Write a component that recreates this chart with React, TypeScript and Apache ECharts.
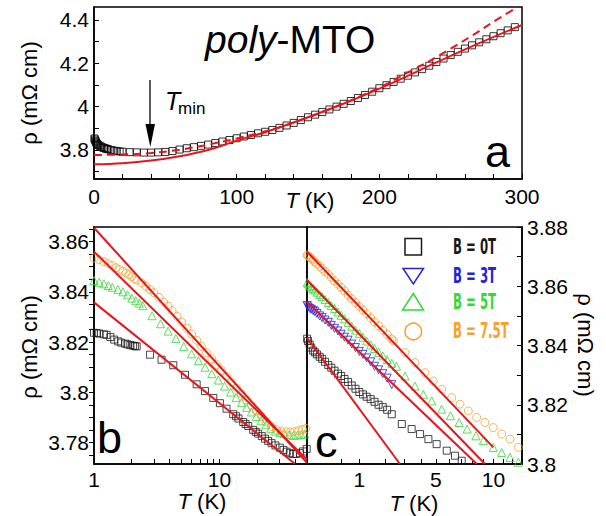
import React, { useEffect, useRef } from "react";
import * as echarts from "echarts";

// ---------------- Panel a : rho(T), 0-300 K ----------------
const aLowT = [0.3, 0.6, 1, 1.4, 1.8, 2.3, 3, 4, 5, 6, 7, 8, 9, 10, 12, 14, 16, 18];
const aLowRho = [3.853, 3.848, 3.842, 3.836, 3.831, 3.827, 3.823, 3.819, 3.815, 3.812, 3.809, 3.807, 3.805, 3.803, 3.8, 3.797, 3.795, 3.793];
const aT = [20, 25, 30, 35, 40, 45, 50, 55, 60, 65, 70, 75, 80, 85, 90, 95, 100, 105, 110, 115, 120, 125, 130, 135, 140, 145, 150, 155, 160, 165, 170, 175, 180, 185, 190, 195, 200, 205, 210, 215, 220, 225, 230, 235, 240, 245, 250, 255, 260, 265, 270, 275, 280, 285, 290, 295];
const aRho = [3.792, 3.79, 3.789, 3.788, 3.788, 3.789, 3.791, 3.795, 3.802, 3.808, 3.813, 3.819, 3.825, 3.832, 3.839, 3.846, 3.854, 3.862, 3.869, 3.877, 3.884, 3.892, 3.902, 3.913, 3.925, 3.938, 3.951, 3.963, 3.975, 3.987, 4.0, 4.013, 4.026, 4.04, 4.054, 4.069, 4.085, 4.099, 4.114, 4.129, 4.143, 4.158, 4.173, 4.189, 4.206, 4.222, 4.238, 4.253, 4.268, 4.283, 4.297, 4.311, 4.325, 4.339, 4.352, 4.367];
const aFitSolidT = [0, 20, 40, 60, 80, 100, 120, 150, 180, 210, 240, 270, 300];
const aFitSolid = [3.734, 3.739, 3.751, 3.771, 3.8, 3.843, 3.882, 3.951, 4.027, 4.112, 4.204, 4.293, 4.377];
const aFitDashT = [0, 20, 40, 60, 80, 100, 130, 160, 200, 220, 235, 250, 265, 280, 296];
const aFitDash = [3.777, 3.779, 3.786, 3.801, 3.825, 3.853, 3.905, 3.975, 4.088, 4.158, 4.21, 4.268, 4.328, 4.392, 4.456];
const aTicksX = [0, 20, 40, 60, 80, 100, 120, 140, 160, 180, 200, 220, 240, 260, 280, 300];
const aLabelsX = [0, 100, 200, 300];
const aTicksY = [3.7, 3.8, 3.9, 4.0, 4.1, 4.2, 4.3, 4.4];
const aLabelsY = [3.8, 4.0, 4.2, 4.4];

// ---------------- Panel b : log T, 1-50 K ----------------
const b0T = [1.0, 1.05, 1.1, 1.2, 1.26, 1.35, 1.45, 1.56, 1.65, 1.77, 1.85, 1.95, 2.05, 2.12, 2.19, 2.8, 3.46, 4.29, 5.32, 6.59, 7.68, 8.94, 10.1, 11.4, 12.9, 13.6, 14.2, 15.5, 16.2, 17.0, 18.6, 19.5, 20.4, 21.8, 23.1, 24.5, 26.1, 28, 30.4, 32.5, 34.4, 36.5, 38.8, 41, 43.9, 46.5, 49.7];
const b0Rho = [3.8237, 3.8236, 3.8234, 3.8231, 3.8229, 3.822, 3.821, 3.8203, 3.8198, 3.8194, 3.8191, 3.8188, 3.8186, 3.8184, 3.8183, 3.815, 3.813, 3.8108, 3.807, 3.8032, 3.8005, 3.7978, 3.7957, 3.7935, 3.7913, 3.7905, 3.7896, 3.7882, 3.7874, 3.7866, 3.7851, 3.7843, 3.7836, 3.7826, 3.7816, 3.7807, 3.7798, 3.7789, 3.778, 3.7771, 3.7764, 3.7758, 3.7755, 3.7755, 3.7758, 3.7765, 3.7775];
const b5T = [1.0, 1.1, 1.2, 1.3, 1.4, 1.55, 1.7, 1.85, 2.0, 2.15, 2.3, 2.45, 2.9, 3.4, 3.9, 4.5, 5.2, 6.0, 6.8, 7.7, 8.7, 9.8, 11, 12.3, 13.6, 15, 16.5, 18, 19.7, 21.5, 23.5, 25.7, 28, 30.5, 33, 36, 39, 42, 45, 48];
const b5Rho = [3.8445, 3.8438, 3.8432, 3.8425, 3.8418, 3.841, 3.84, 3.8388, 3.8375, 3.8365, 3.8355, 3.8345, 3.8305, 3.8273, 3.8244, 3.8214, 3.8183, 3.8153, 3.8126, 3.81, 3.8074, 3.8049, 3.8025, 3.8001, 3.798, 3.796, 3.794, 3.7922, 3.7904, 3.7887, 3.7871, 3.7857, 3.7846, 3.784, 3.7835, 3.7831, 3.7829, 3.783, 3.7832, 3.7835];
const b75T = [1.0, 1.1, 1.2, 1.3, 1.4, 1.5, 1.6, 1.7, 1.8, 1.9, 2.0, 2.1, 2.2, 2.4, 2.6, 2.8, 3.0, 3.3, 3.6, 3.9, 4.2, 4.6, 5.0, 5.5, 6.0, 6.6, 7.2, 7.9, 8.7, 9.5, 10.4, 11.4, 12.5, 13.7, 15, 16.4, 18, 19.7, 21.6, 23.7, 26, 28.5, 31, 34, 37, 40, 43, 46, 49];
const b75Rho = [3.8535, 3.8528, 3.852, 3.8512, 3.8505, 3.8496, 3.8489, 3.8482, 3.8475, 3.8468, 3.846, 3.8453, 3.8447, 3.8435, 3.8422, 3.8409, 3.8397, 3.8378, 3.836, 3.8343, 3.8325, 3.8302, 3.828, 3.8255, 3.8232, 3.8207, 3.8183, 3.8158, 3.8133, 3.8111, 3.8088, 3.8064, 3.804, 3.8017, 3.7994, 3.7971, 3.7948, 3.7926, 3.7904, 3.7882, 3.7864, 3.7852, 3.7846, 3.7843, 3.7842, 3.7844, 3.7848, 3.7852, 3.7856];
const bFitT = [1, 50];
const bFit75 = [3.8655, 3.772];
const bFit5 = [3.856, 3.7733];
const bFit0T = [1, 40];
const bFit0 = [3.8358, 3.7716];
const bTicksX = [1, 2, 3, 4, 5, 6, 7, 8, 9, 10, 20, 30, 40];
const bLabelsX = [1, 10];
const bTicksY = [3.775, 3.78, 3.785, 3.79, 3.795, 3.8, 3.805, 3.81, 3.815, 3.82, 3.825, 3.83, 3.835, 3.84, 3.845, 3.85, 3.855, 3.86, 3.865];
const bLabelsY = [3.78, 3.8, 3.82, 3.84, 3.86];

// ---------------- Panel c : T^(1/2) axis ----------------
const cDenseT = [0.025, 0.03, 0.04, 0.05, 0.065, 0.08, 0.1, 0.13, 0.16, 0.2, 0.25, 0.3, 0.36, 0.43, 0.5, 0.58, 0.67, 0.77, 0.88, 1.0, 1.12, 1.25, 1.4, 1.55, 1.72, 1.9, 2.1, 2.32];
const c0Dense = [3.8423, 3.8415, 3.8403, 3.8393, 3.8383, 3.8377, 3.837, 3.8362, 3.8355, 3.8345, 3.8334, 3.8325, 3.8315, 3.8305, 3.8297, 3.8287, 3.8277, 3.8265, 3.8254, 3.8243, 3.8235, 3.8227, 3.8219, 3.821, 3.82, 3.8192, 3.8183, 3.8168];
const c3Dense = [3.8535, 3.853, 3.8525, 3.8522, 3.8518, 3.8514, 3.8508, 3.85, 3.8494, 3.8486, 3.8478, 3.8468, 3.8458, 3.8449, 3.8438, 3.8428, 3.8418, 3.8405, 3.8393, 3.838, 3.837, 3.8358, 3.8345, 3.833, 3.8318, 3.8305, 3.829, 3.8268];
const c5Dense = [3.8612, 3.8608, 3.8602, 3.8598, 3.8592, 3.8587, 3.858, 3.8572, 3.8565, 3.8555, 3.8545, 3.8535, 3.8525, 3.8513, 3.8502, 3.849, 3.8478, 3.8465, 3.8452, 3.844, 3.8428, 3.8415, 3.8402, 3.839, 3.8377, 3.8365, 3.8352, 3.834];
const c75Dense = [3.8705, 3.8702, 3.8698, 3.8693, 3.8688, 3.8682, 3.8675, 3.8668, 3.866, 3.865, 3.864, 3.863, 3.8618, 3.8607, 3.8596, 3.8584, 3.857, 3.8558, 3.8545, 3.8532, 3.852, 3.8507, 3.8493, 3.848, 3.8466, 3.8452, 3.8437, 3.8422];
const c0T = [2.84, 3.4, 3.92, 4.47, 5.05, 5.81, 6.47, 7.03];
const c0Rho = [3.8135, 3.8118, 3.8101, 3.8084, 3.8067, 3.8045, 3.8028, 3.8011];
const c5T = [2.56, 3.02, 3.6, 4.13, 4.7, 5.42, 6.1, 6.8, 7.5, 8.3, 9.0, 9.99, 10.87, 11.77, 12.71];
const c5Rho = [3.833, 3.8297, 3.8263, 3.8235, 3.8213, 3.8185, 3.8163, 3.814, 3.8118, 3.8095, 3.8079, 3.8056, 3.8039, 3.8022, 3.8006];
const c75T = [2.4, 3.02, 3.6, 4.24, 4.81, 5.42, 6.2, 6.89, 7.61, 8.37, 9.16, 9.99, 10.87, 11.77, 12.71];
const c75Rho = [3.8415, 3.8376, 3.8342, 3.8308, 3.828, 3.8252, 3.8224, 3.8202, 3.8179, 3.8157, 3.814, 3.8123, 3.8101, 3.8084, 3.8056];
const cFit75T = [0.0243, 10];
const cFit75 = [3.8717, 3.8056];
const cFit5T = [0.0243, 9.16];
const cFit5 = [3.8621, 3.8];
const cFit3T = [0.0243, 8.38];
const cFit3 = [3.8547, 3.8];
const cFit0T = [0.0243, 2.74];
const cFit0 = [3.8426, 3.8];
const cTicksT = [0.5, 1, 2, 3, 4, 5, 6, 7, 8, 9, 10, 11, 12, 13];
const cLabelsT = [1, 5, 10];
const cTicksY = [3.8, 3.81, 3.82, 3.83, 3.84, 3.85, 3.86, 3.87, 3.88];
const cLabelsY = [3.8, 3.82, 3.84, 3.86, 3.88];

const legendLabels = ["B = 0T", "B = 3T", "B = 5T", "B = 7.5T"];

// ---------------- styling ----------------
const FONT = '"Liberation Sans", Arial, Helvetica, sans-serif';
const NARROW = '"Liberation Sans Narrow", "DejaVu Sans Condensed", "Liberation Sans", sans-serif';
const RED = "#e8161c";
const C0 = "#1a1a1a";
const C3 = "#2424dc";
const C5 = "#35d835";
const C75 = "#f5a12c";

const zip = (xs: number[], ys: number[]) => xs.map((x, i) => [x, ys[i]]);
const zipSqrt = (ts: number[], ys: number[]) => ts.map((t, i) => [Math.sqrt(t), ys[i]]);
const fmt = (v: number) => String(parseFloat(Number(v).toFixed(2)));

function scatter(name: string, data: number[][], idx: number, symbol: string, size: number, color: string, rotate = 0) {
  return {
    name,
    type: "scatter",
    xAxisIndex: idx,
    yAxisIndex: idx,
    data,
    symbol,
    symbolSize: size,
    symbolRotate: rotate,
    itemStyle: { color: "rgba(255,255,255,0)", borderColor: color, borderWidth: 1 },
    z: 2,
  };
}
function fitLine(data: number[][], idx: number, dashed = false, smooth: any = false) {
  return {
    type: "line",
    xAxisIndex: idx,
    yAxisIndex: idx,
    data,
    symbol: "none",
    smooth,
    lineStyle: { color: RED, width: 2, type: dashed ? [8, 5] : "solid" },
    z: 3,
  };
}

function buildOption() {
  const lbl = { fontFamily: FONT, fontSize: 21, color: "#000", lineHeight: 16 };
  const axLine = { show: true, lineStyle: { color: "#000", width: 1.5 } };
  const tick = (inside: boolean, vals: number[]) => ({
    show: true,
    inside,
    length: 5,
    customValues: vals,
    lineStyle: { color: "#000", width: 1 },
  });
  const gridBase = { show: true, borderColor: "#000", borderWidth: 1.5, backgroundColor: "rgba(0,0,0,0)" };
  const nameText = (text: string, x: number, y: number, rotation = 0) => ({
    type: "text",
    x,
    y,
    rotation,
    z: 50,
    style: {
      text,
      rich: { i: { fontStyle: "italic", fontFamily: FONT, fontSize: 22, fill: "#000", lineHeight: 18 } },
      fontFamily: FONT,
      fontSize: 22,
      lineHeight: 18,
      fill: "#000",
      align: "center",
      verticalAlign: "middle",
      textAlign: "center",
      textVerticalAlign: "middle",
    },
  });
  const plainText = (text: string, x: number, y: number, size: number, extra: any = {}) => ({
    type: "text",
    x,
    y,
    z: 50,
    style: {
      text,
      fontFamily: FONT,
      fontSize: size,
      fill: "#000",
      align: "left",
      verticalAlign: "middle",
      textAlign: "left",
      textVerticalAlign: "middle",
      ...extra,
    },
  });
  const legendColors = [C0, C3, C5, C75];
  const legendY = [246.7, 276, 302, 331];
  const legendText = legendLabels.map((t, i) => ({
    type: "text",
    x: 453,
    y: legendY[i],
    scaleX: 0.62,
    z: 50,
    style: {
      text: t,
      fontFamily: NARROW,
      fontWeight: "bold",
      fontSize: 21,
      fill: legendColors[i],
      align: "left",
      verticalAlign: "middle",
      textAlign: "left",
      textVerticalAlign: "middle",
    },
  }));

  return {
    animation: false,
    backgroundColor: "#fff",
    grid: [
      { ...gridBase, left: 94, top: 7, width: 428, height: 172 },
      { ...gridBase, left: 94, top: 227, width: 213, height: 237 },
      { ...gridBase, left: 307, top: 227, width: 215, height: 237 },
    ],
    xAxis: [
      {
        gridIndex: 0, type: "value", min: 0, max: 300,
        axisLine: axLine, axisTick: tick(true, aTicksX),
        axisLabel: { ...lbl, margin: 9, customValues: aLabelsX },
        splitLine: { show: false },
      },
      {
        gridIndex: 1, type: "log", logBase: 10, min: 1, max: 50,
        axisLine: axLine, axisTick: tick(true, bTicksX),
        axisLabel: { ...lbl, margin: 7, customValues: bLabelsX, formatter: (v: number) => String(Math.round(v)) },
        splitLine: { show: false }, minorTick: { show: false },
      },
      {
        gridIndex: 2, type: "value", min: 0.156, max: 3.624,
        axisLine: axLine, axisTick: tick(true, cTicksT.map(Math.sqrt)),
        axisLabel: { ...lbl, margin: 7.5, customValues: cLabelsT.map(Math.sqrt), formatter: (v: number) => String(Math.round(v * v)) },
        splitLine: { show: false },
      },
    ],
    yAxis: [
      {
        gridIndex: 0, type: "value", min: 3.666, max: 4.46,
        axisLine: axLine, axisTick: tick(true, aTicksY),
        axisLabel: { ...lbl, margin: 5, customValues: aLabelsY, formatter: fmt },
        splitLine: { show: false },
      },
      {
        gridIndex: 1, type: "value", min: 3.7715, max: 3.8658,
        axisLine: axLine, axisTick: tick(false, bTicksY),
        axisLabel: { ...lbl, margin: 5, customValues: bLabelsY, formatter: fmt },
        splitLine: { show: false },
      },
      {
        gridIndex: 2, type: "value", position: "right", min: 3.8, max: 3.88,
        axisLine: axLine, axisTick: tick(true, cTicksY),
        axisLabel: { ...lbl, margin: 5, customValues: cLabelsY, formatter: fmt },
        splitLine: { show: false },
      },
    ],
    series: [
      // panel a
      scatter("a-low", zip(aLowT, aLowRho), 0, "rect", 7, "#000"),
      scatter("a", zip(aT, aRho), 0, "rect", 7, "#000"),
      fitLine(zip(aFitSolidT, aFitSolid), 0, false, 0.4),
      fitLine(zip(aFitDashT, aFitDash), 0, true, 0.4),
      // panel b
      scatter("b 0T", zip(b0T, b0Rho), 1, "rect", 7, C0),
      scatter("b 5T", zip(b5T, b5Rho), 1, "triangle", 8, C5),
      scatter("b 7.5T", zip(b75T, b75Rho), 1, "circle", 8, C75),
      fitLine(zip(bFitT, bFit75), 1),
      fitLine(zip(bFitT, bFit5), 1),
      fitLine(zip(bFit0T, bFit0), 1),
      // panel c
      scatter("c 0T", zipSqrt(cDenseT, c0Dense).concat(zipSqrt(c0T, c0Rho)), 2, "rect", 7, C0),
      scatter("c 3T", zipSqrt(cDenseT, c3Dense), 2, "triangle", 8, C3, 180),
      scatter("c 5T", zipSqrt(cDenseT, c5Dense).concat(zipSqrt(c5T, c5Rho)), 2, "triangle", 8, C5),
      scatter("c 7.5T", zipSqrt(cDenseT, c75Dense).concat(zipSqrt(c75T, c75Rho)), 2, "circle", 8, C75),
      fitLine(zipSqrt(cFit75T, cFit75), 2),
      fitLine(zipSqrt(cFit5T, cFit5), 2),
      fitLine(zipSqrt(cFit3T, cFit3), 2),
      fitLine(zipSqrt(cFit0T, cFit0), 2),
    ],
    graphic: [
      // title
      {
        type: "text", x: 205, y: 39, z: 50,
        style: {
          text: "{i|poly}{n|-MTO}",
          rich: {
            i: { fontStyle: "italic", fontFamily: FONT, fontSize: 39, fill: "#000" },
            n: { fontFamily: FONT, fontSize: 39, fill: "#000" },
          },
          fontFamily: FONT, fontSize: 39,
          align: "left", verticalAlign: "middle", textAlign: "left", textVerticalAlign: "middle",
        },
      },
      // T_min annotation
      plainText("T", 165, 101, 25, { fontStyle: "italic" }),
      plainText("min", 178, 108, 17),
      { type: "line", z: 50, shape: { x1: 150, y1: 80, x2: 150, y2: 128 }, style: { stroke: "#000", lineWidth: 1.3 } },
      { type: "polygon", z: 50, shape: { points: [[145.5, 124], [155, 124], [150.3, 147]] }, style: { fill: "#000" } },
      // panel letters
      plainText("a", 485, 151.4, 45),
      plainText("b", 97, 437.4, 45),
      plainText("c", 315, 441.4, 45),
      // axis names
      nameText("{i|T} (K)", 310, 200),
      nameText("{i|T} (K)", 202, 501),
      nameText("{i|T} (K)", 414, 503),
      nameText("ρ (mΩ cm)", 29, 93, Math.PI / 2),
      nameText("ρ (mΩ cm)", 29, 347, Math.PI / 2),
      nameText("ρ (mΩ cm)", 585, 345, -Math.PI / 2),
      // legend symbols
      { type: "rect", z: 50, shape: { x: 405, y: 238.5, width: 16.5, height: 16.5 }, style: { fill: "none", stroke: C0, lineWidth: 1.5 } },
      { type: "polygon", z: 50, shape: { points: [[403, 268.5], [423.5, 268.5], [413.3, 284]] }, style: { fill: "none", stroke: C3, lineWidth: 1.5 } },
      { type: "polygon", z: 50, shape: { points: [[413.3, 293.5], [423.5, 310], [402.5, 310]] }, style: { fill: "none", stroke: C5, lineWidth: 1.5 } },
      { type: "circle", z: 50, shape: { cx: 413.3, cy: 331.5, r: 8.3 }, style: { fill: "none", stroke: C75, lineWidth: 1.5 } },
      ...legendText,
    ],
  };
}

export default function App() {
  const ref = useRef<HTMLDivElement>(null);
  useEffect(() => {
    if (!ref.current) return;
    const chart = echarts.init(ref.current, undefined, { renderer: "svg" });
    chart.setOption(buildOption() as any);
    return () => chart.dispose();
  }, []);
  return (
    <div
      ref={ref}
      style={{ position: "fixed", left: 0, top: 0, width: 606, height: 516, background: "#fff" }}
    />
  );
}
